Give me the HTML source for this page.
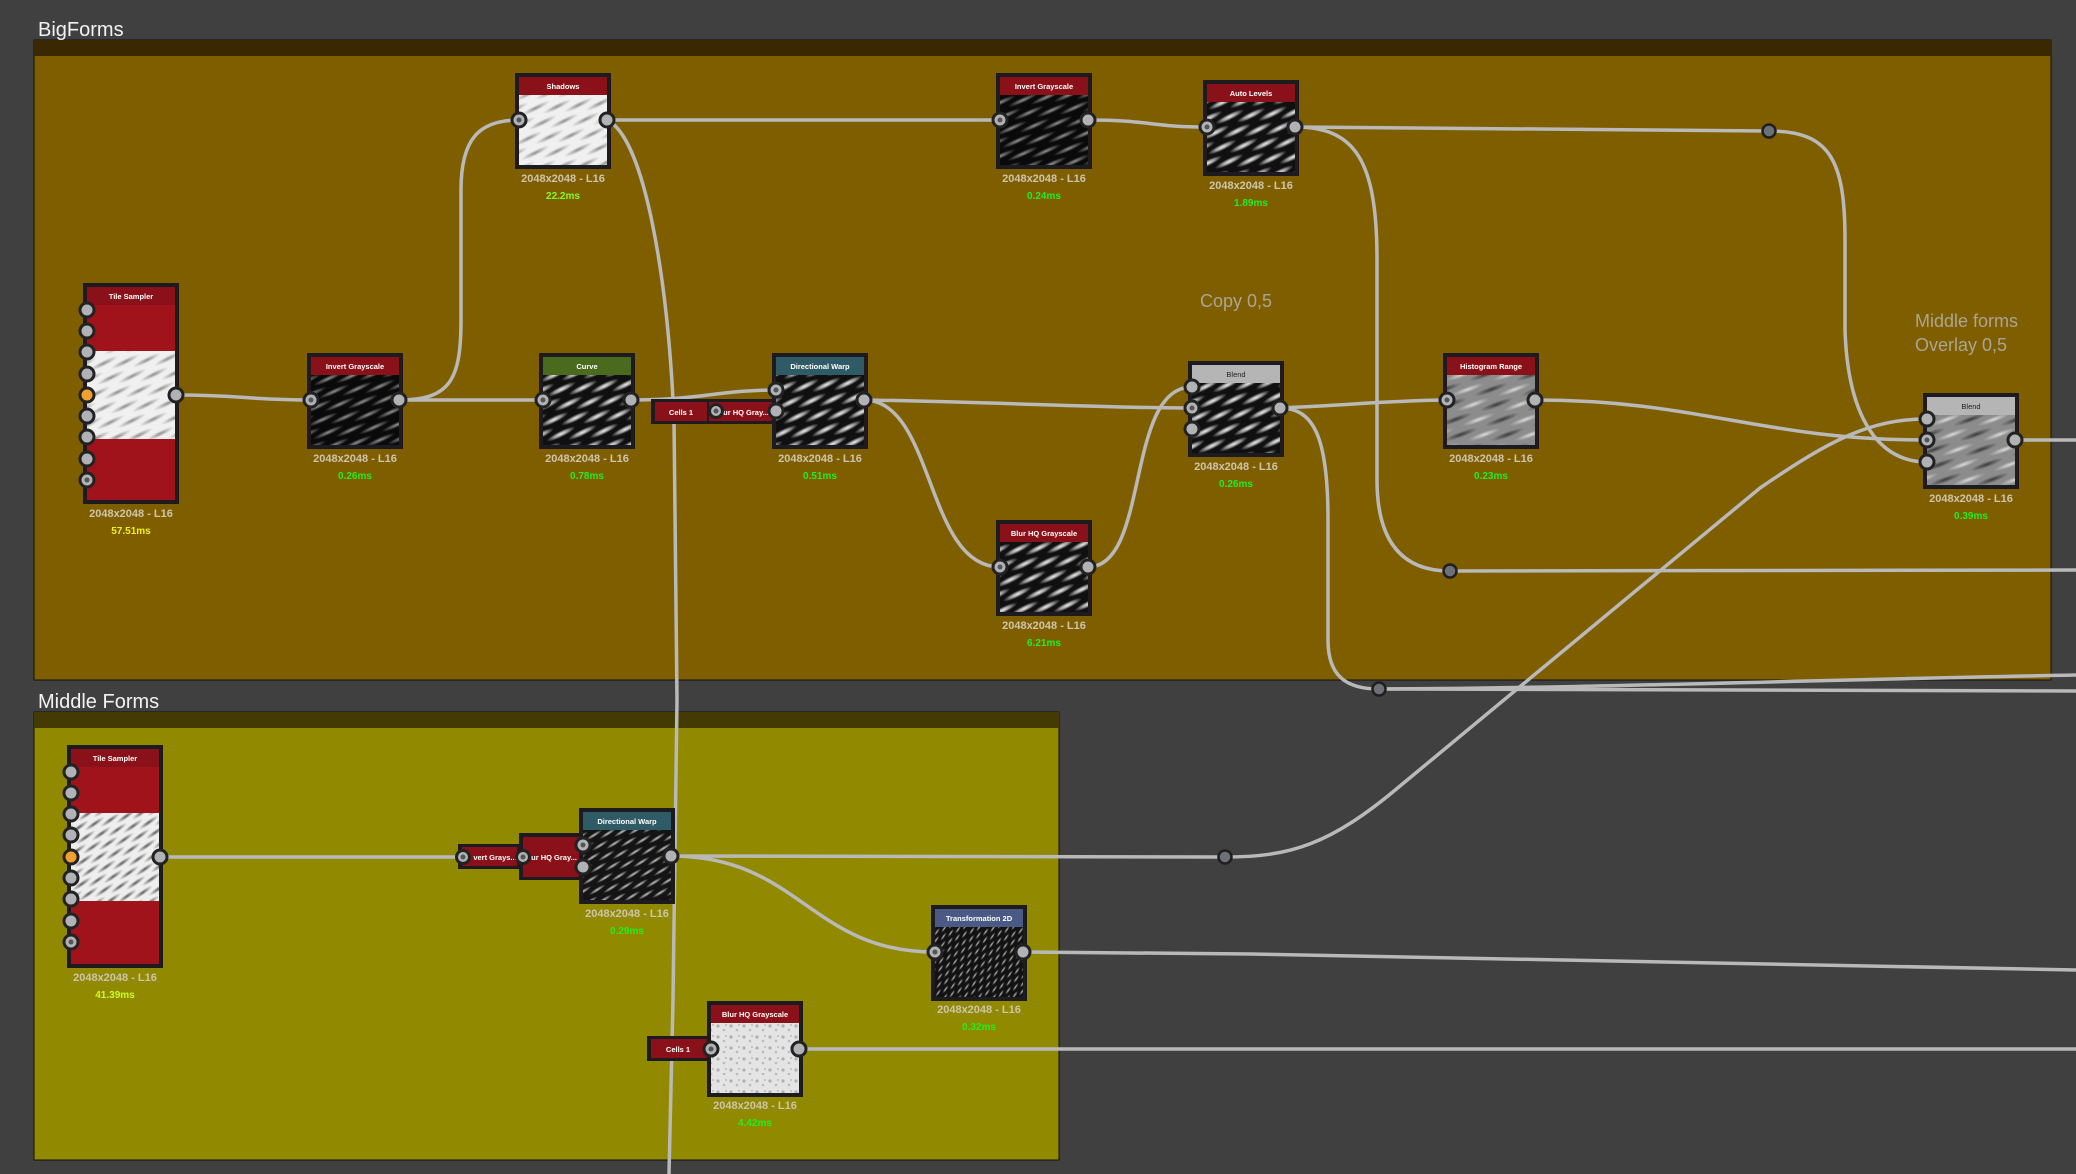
<!DOCTYPE html>
<html><head><meta charset="utf-8"><style>
html,body{margin:0;padding:0;background:#404040;}
svg{display:block}
text{font-family:"Liberation Sans",sans-serif}
.t{font-size:7.5px;font-weight:bold;fill:#fff;text-anchor:middle}
.l{font-size:11px;font-weight:bold;fill:#cdc5ad;text-anchor:middle}
.m{font-size:10px;font-weight:bold;fill:#22ee22;text-anchor:middle}
.c{fill:none;stroke:#b9b9b9;stroke-width:3.5}
.p{fill:#b0b2b6;stroke:#222;stroke-width:3}
.pi{fill:#555}
.d{fill:#6c7078;stroke:#1f1f1f;stroke-width:2.5}
.n{fill:#1d1b1f}
</style></head><body>
<svg width="2076" height="1174" viewBox="0 0 2076 1174" xmlns="http://www.w3.org/2000/svg">
<defs>
 <radialGradient id="rw"><stop offset="0" stop-color="#f4f4f4"/><stop offset="0.5" stop-color="#cfcfcf" stop-opacity=".7"/><stop offset="1" stop-color="#bbb" stop-opacity="0"/></radialGradient>
 <radialGradient id="rw2"><stop offset="0" stop-color="#bdbdbd"/><stop offset="0.6" stop-color="#999" stop-opacity=".5"/><stop offset="1" stop-color="#888" stop-opacity="0"/></radialGradient>
 <radialGradient id="rk"><stop offset="0" stop-color="#8a8a8a"/><stop offset="1" stop-color="#9a9a9a" stop-opacity="0"/></radialGradient>
 <radialGradient id="rk2"><stop offset="0" stop-color="#555"/><stop offset="1" stop-color="#666" stop-opacity="0"/></radialGradient>
 <radialGradient id="rg"><stop offset="0" stop-color="#3a3a3a"/><stop offset="1" stop-color="#3a3a3a" stop-opacity="0"/></radialGradient>
 <pattern id="pD" patternUnits="userSpaceOnUse" width="40" height="16" patternTransform="rotate(-26)">
  <rect width="40" height="16" fill="#101010"/>
  <ellipse cx="14" cy="4" rx="16" ry="3.2" fill="url(#rw)"/>
  <ellipse cx="54" cy="4" rx="16" ry="3.2" fill="url(#rw)"/>
  <ellipse cx="34" cy="12" rx="16" ry="3.2" fill="url(#rw)"/>
  <ellipse cx="-6" cy="12" rx="16" ry="3.2" fill="url(#rw)"/>
 </pattern>
 <pattern id="pDim" patternUnits="userSpaceOnUse" width="44" height="14" patternTransform="rotate(-24)">
  <rect width="44" height="14" fill="#0a0a0a"/>
  <ellipse cx="14" cy="3.5" rx="17" ry="2.6" fill="url(#rw2)" opacity=".8"/>
  <ellipse cx="58" cy="3.5" rx="17" ry="2.6" fill="url(#rw2)" opacity=".8"/>
  <ellipse cx="36" cy="10.5" rx="17" ry="2.6" fill="url(#rw2)" opacity=".8"/>
  <ellipse cx="-8" cy="10.5" rx="17" ry="2.6" fill="url(#rw2)" opacity=".8"/>
 </pattern>
 <pattern id="pW" patternUnits="userSpaceOnUse" width="40" height="16" patternTransform="rotate(-26)">
  <rect width="40" height="16" fill="#f0f0f0"/>
  <ellipse cx="14" cy="4" rx="16" ry="2.8" fill="url(#rk)"/>
  <ellipse cx="54" cy="4" rx="16" ry="2.8" fill="url(#rk)"/>
  <ellipse cx="34" cy="12" rx="16" ry="2.8" fill="url(#rk)"/>
  <ellipse cx="-6" cy="12" rx="16" ry="2.8" fill="url(#rk)"/>
 </pattern>
 <pattern id="pW2" patternUnits="userSpaceOnUse" width="30" height="12" patternTransform="rotate(-35)">
  <rect width="30" height="12" fill="#eeeeee"/>
  <ellipse cx="10" cy="3" rx="12" ry="2.4" fill="url(#rk2)"/>
  <ellipse cx="40" cy="3" rx="12" ry="2.4" fill="url(#rk2)"/>
  <ellipse cx="25" cy="9" rx="12" ry="2.4" fill="url(#rk2)"/>
  <ellipse cx="-5" cy="9" rx="12" ry="2.4" fill="url(#rk2)"/>
 </pattern>
 <pattern id="pG" patternUnits="userSpaceOnUse" width="44" height="16" patternTransform="rotate(-20)">
  <rect width="44" height="16" fill="#8c8c8c"/>
  <ellipse cx="14" cy="4" rx="18" ry="3" fill="url(#rw)" opacity=".8"/>
  <ellipse cx="58" cy="4" rx="18" ry="3" fill="url(#rw)" opacity=".8"/>
  <ellipse cx="36" cy="12" rx="18" ry="3" fill="url(#rg)"/>
  <ellipse cx="-8" cy="12" rx="18" ry="3" fill="url(#rg)"/>
 </pattern>
 <pattern id="pC" patternUnits="userSpaceOnUse" width="26" height="12" patternTransform="rotate(-32)">
  <rect width="26" height="12" fill="#141414"/>
  <ellipse cx="9" cy="3" rx="10" ry="1.8" fill="url(#rw)" opacity=".8"/>
  <ellipse cx="35" cy="3" rx="10" ry="1.8" fill="url(#rw)" opacity=".8"/>
  <ellipse cx="22" cy="9" rx="10" ry="1.8" fill="url(#rw)" opacity=".8"/>
  <ellipse cx="-4" cy="9" rx="10" ry="1.8" fill="url(#rw)" opacity=".8"/>
 </pattern>
 <pattern id="pT" patternUnits="userSpaceOnUse" width="14" height="8" patternTransform="rotate(-55)">
  <rect width="14" height="8" fill="#121212"/>
  <ellipse cx="5" cy="2" rx="5" ry="1.2" fill="url(#rw)" opacity=".8"/>
  <ellipse cx="12" cy="6" rx="5" ry="1.2" fill="url(#rw)" opacity=".8"/>
  <ellipse cx="-2" cy="6" rx="5" ry="1.2" fill="url(#rw)" opacity=".8"/>
 </pattern>
 <pattern id="pN" patternUnits="userSpaceOnUse" width="13" height="11">
  <rect width="13" height="11" fill="#e4e4e4"/>
  <circle cx="3" cy="3" r="1.6" fill="#9a9a9a" opacity=".7"/>
  <circle cx="9" cy="7" r="1.3" fill="#aaa" opacity=".7"/>
  <circle cx="11" cy="2" r="0.9" fill="#888" opacity=".6"/>
 </pattern>
</defs>

<rect width="2076" height="1174" fill="#404040"/>

<!-- Frames -->
<rect x="34" y="40" width="2017" height="640" fill="#7f5e00" stroke="#111" stroke-width="1"/>
<rect x="34" y="40" width="2017" height="16" fill="#3a2800"/>
<text x="38" y="36" font-size="20" fill="#f2f2f2">BigForms</text>

<rect x="34" y="712" width="1025" height="448" fill="#918900" stroke="#111" stroke-width="1"/>
<rect x="34" y="712" width="1025" height="16" fill="#433a04"/>
<text x="38" y="708" font-size="20" fill="#f2f2f2">Middle Forms</text>

<text x="1200" y="307" font-size="18" fill="#aba593">Copy 0,5</text>
<text x="1915" y="327" font-size="18" fill="#aba593">Middle forms</text>
<text x="1915" y="351" font-size="18" fill="#aba593">Overlay 0,5</text>

<!-- Connectors -->
<path class="c" d="M176,395 C240,395 250,400 311,400"/>
<path class="c" d="M399,400 L543,400"/>
<path class="c" d="M399,400 C450,400 461,380 461,320 L461,190 C461,140 478,120 519,120"/>
<path class="c" d="M607,120 L1000,120"/>
<path class="c" d="M607,120 C645,138 668,280 674,420 L677,700 L673,1000 L669,1174"/>
<path class="c" d="M631,400 C700,400 720,390 776,390"/>
<path class="c" d="M864,400 C1000,402 1100,408 1192,408"/>
<path class="c" d="M864,400 C935,400 925,567 1000,567"/>
<path class="c" d="M1088,567 C1150,567 1125,387 1192,387"/>
<path class="c" d="M1088,120 C1150,120 1150,127 1207,127"/>
<path class="c" d="M1295,127 L1769,131"/>
<path class="c" d="M1295,127 C1355,127 1377,160 1377,260 L1377,480 C1377,545 1405,571 1450,571"/>
<path class="c" d="M1450,571 L2076,570"/>
<path class="c" d="M1769,131 C1830,131 1845,160 1845,240 L1845,330 C1848,420 1880,462 1927,462"/>
<path class="c" d="M1280,408 C1350,405 1400,400 1447,400"/>
<path class="c" d="M1280,408 C1315,408 1328,440 1328,520 L1328,640 C1328,675 1345,689 1379,689"/>
<path class="c" d="M1379,689 L2076,691"/>
<path class="c" d="M1379,689 C1600,688 1800,680 2076,675"/>
<path class="c" d="M1535,400 C1700,400 1760,440 1927,440"/>
<path class="c" d="M2015,440 L2076,440"/>
<path class="c" d="M160,857 L463,857"/>
<path class="c" d="M671,856 L1225,857"/>
<path class="c" d="M1225,857 C1290,857 1330,845 1400,786 L1760,488 C1830,440 1870,419 1927,419"/>
<path class="c" d="M671,856 C800,856 810,952 935,952"/>
<path class="c" d="M1023,952 L1250,954 L2076,970"/>
<path class="c" d="M799,1049 L2076,1049"/>

<!-- BF Tile Sampler -->
<rect class="n" x="83" y="283" width="96" height="221"/>
<rect x="87" y="287" width="88" height="213" fill="#a0131b"/>
<rect x="87" y="287" width="88" height="18" fill="#8a1119"/>
<text class="t" x="131" y="299">Tile Sampler</text>
<rect x="87" y="351" width="88" height="88" fill="url(#pW)"/>
<g>
<circle class="p" cx="87" cy="310" r="7"/><circle class="p" cx="87" cy="331" r="7"/><circle class="p" cx="87" cy="352" r="7"/><circle class="p" cx="87" cy="374" r="7"/>
<circle cx="87" cy="395" r="7" fill="#f0a030" stroke="#222" stroke-width="3"/>
<circle class="p" cx="87" cy="416" r="7"/><circle class="p" cx="87" cy="437" r="7"/><circle class="p" cx="87" cy="459" r="7"/><circle class="p" cx="87" cy="480" r="7"/><circle class="pi" cx="87" cy="480" r="2.5"/>
<circle class="p" cx="176" cy="395" r="7"/>
</g>
<text class="l" x="131" y="517">2048x2048 - L16</text>
<text class="m" x="131" y="534" style="fill:#f0f020">57.51ms</text>

<!-- Invert Grayscale -->
<rect class="n" x="307" y="353" width="96" height="96"/>
<rect x="311" y="357" width="88" height="18" fill="#8a1119"/>
<rect x="311" y="375" width="88" height="70" fill="url(#pDim)"/>
<text class="t" x="355" y="369">Invert Grayscale</text>
<circle class="p" cx="311" cy="400" r="7"/><circle class="pi" cx="311" cy="400" r="2.5"/>
<circle class="p" cx="399" cy="400" r="7"/>
<text class="l" x="355" y="462">2048x2048 - L16</text>
<text class="m" x="355" y="479">0.26ms</text>

<!-- Shadows -->
<rect class="n" x="515" y="73" width="96" height="96"/>
<rect x="519" y="77" width="88" height="18" fill="#8a1119"/>
<rect x="519" y="95" width="88" height="70" fill="url(#pW)"/>
<text class="t" x="563" y="89">Shadows</text>
<circle class="p" cx="519" cy="120" r="7"/><circle class="pi" cx="519" cy="120" r="2.5"/>
<circle class="p" cx="607" cy="120" r="7"/>
<text class="l" x="563" y="182">2048x2048 - L16</text>
<text class="m" x="563" y="199" style="fill:#80ff20">22.2ms</text>

<!-- Curve -->
<rect class="n" x="539" y="353" width="96" height="96"/>
<rect x="543" y="357" width="88" height="18" fill="#4a6a1e"/>
<rect x="543" y="375" width="88" height="70" fill="url(#pD)"/>
<text class="t" x="587" y="369">Curve</text>
<circle class="p" cx="543" cy="400" r="7"/><circle class="pi" cx="543" cy="400" r="2.5"/>
<circle class="p" cx="631" cy="400" r="7"/>
<text class="l" x="587" y="462">2048x2048 - L16</text>
<text class="m" x="587" y="479">0.78ms</text>

<!-- small BF chain -->
<rect class="n" x="651" y="399" width="129" height="25"/>
<rect x="655" y="402" width="52" height="19" fill="#8a1119"/>
<text class="t" x="681" y="415">Cells 1</text>
<rect x="709" y="402" width="68" height="19" fill="#8a1119"/>
<text class="t" x="746" y="415">ur HQ Gray...</text>
<circle class="p" cx="716" cy="411" r="6.5"/><circle class="pi" cx="716" cy="411" r="2.5"/>

<!-- Directional Warp BF -->
<rect class="n" x="772" y="353" width="96" height="96"/>
<rect x="776" y="357" width="88" height="18" fill="#2f5b66"/>
<rect x="776" y="375" width="88" height="70" fill="url(#pD)"/>
<text class="t" x="820" y="369">Directional Warp</text>
<circle class="p" cx="776" cy="390" r="7"/><circle class="pi" cx="776" cy="390" r="2.5"/>
<circle class="p" cx="776" cy="411" r="7"/>
<circle class="p" cx="864" cy="400" r="7"/>
<text class="l" x="820" y="462">2048x2048 - L16</text>
<text class="m" x="820" y="479">0.51ms</text>

<!-- Invert Grayscale 2 -->
<rect class="n" x="996" y="73" width="96" height="96"/>
<rect x="1000" y="77" width="88" height="18" fill="#8a1119"/>
<rect x="1000" y="95" width="88" height="70" fill="url(#pDim)"/>
<text class="t" x="1044" y="89">Invert Grayscale</text>
<circle class="p" cx="1000" cy="120" r="7"/><circle class="pi" cx="1000" cy="120" r="2.5"/>
<circle class="p" cx="1088" cy="120" r="7"/>
<text class="l" x="1044" y="182">2048x2048 - L16</text>
<text class="m" x="1044" y="199">0.24ms</text>

<!-- Auto Levels -->
<rect class="n" x="1203" y="80" width="96" height="96"/>
<rect x="1207" y="84" width="88" height="18" fill="#8a1119"/>
<rect x="1207" y="102" width="88" height="70" fill="url(#pD)"/>
<text class="t" x="1251" y="96">Auto Levels</text>
<circle class="p" cx="1207" cy="127" r="7"/><circle class="pi" cx="1207" cy="127" r="2.5"/>
<circle class="p" cx="1295" cy="127" r="7"/>
<text class="l" x="1251" y="189">2048x2048 - L16</text>
<text class="m" x="1251" y="206">1.89ms</text>

<!-- Blur HQ BF -->
<rect class="n" x="996" y="520" width="96" height="96"/>
<rect x="1000" y="524" width="88" height="18" fill="#8a1119"/>
<rect x="1000" y="542" width="88" height="70" fill="url(#pD)"/>
<text class="t" x="1044" y="536">Blur HQ Grayscale</text>
<circle class="p" cx="1000" cy="567" r="7"/><circle class="pi" cx="1000" cy="567" r="2.5"/>
<circle class="p" cx="1088" cy="567" r="7"/>
<text class="l" x="1044" y="629">2048x2048 - L16</text>
<text class="m" x="1044" y="646">6.21ms</text>

<!-- Blend BF -->
<rect class="n" x="1188" y="361" width="96" height="96"/>
<rect x="1192" y="365" width="88" height="18" fill="#b5b5b5"/>
<rect x="1192" y="383" width="88" height="70" fill="url(#pD)"/>
<text x="1236" y="377" font-size="7.5" fill="#222" text-anchor="middle">Blend</text>
<circle class="p" cx="1192" cy="387" r="7"/>
<circle class="p" cx="1192" cy="408" r="7"/><circle class="pi" cx="1192" cy="408" r="2.5"/>
<circle class="p" cx="1192" cy="429" r="7"/>
<circle class="p" cx="1280" cy="408" r="7"/>
<text class="l" x="1236" y="470">2048x2048 - L16</text>
<text class="m" x="1236" y="487">0.26ms</text>

<!-- Histogram Range -->
<rect class="n" x="1443" y="353" width="96" height="96"/>
<rect x="1447" y="357" width="88" height="18" fill="#8a1119"/>
<rect x="1447" y="375" width="88" height="70" fill="url(#pG)"/>
<text class="t" x="1491" y="369">Histogram Range</text>
<circle class="p" cx="1447" cy="400" r="7"/><circle class="pi" cx="1447" cy="400" r="2.5"/>
<circle class="p" cx="1535" cy="400" r="7"/>
<text class="l" x="1491" y="462">2048x2048 - L16</text>
<text class="m" x="1491" y="479">0.23ms</text>

<!-- Blend 2 -->
<rect class="n" x="1923" y="393" width="96" height="96"/>
<rect x="1927" y="397" width="88" height="18" fill="#b5b5b5"/>
<rect x="1927" y="415" width="88" height="70" fill="url(#pG)"/>
<text x="1971" y="409" font-size="7.5" fill="#222" text-anchor="middle">Blend</text>
<circle class="p" cx="1927" cy="419" r="7"/>
<circle class="p" cx="1927" cy="440" r="7"/><circle class="pi" cx="1927" cy="440" r="2.5"/>
<circle class="p" cx="1927" cy="462" r="7"/>
<circle class="p" cx="2015" cy="440" r="7"/>
<text class="l" x="1971" y="502">2048x2048 - L16</text>
<text class="m" x="1971" y="519">0.39ms</text>

<!-- MF Tile Sampler -->
<rect class="n" x="67" y="745" width="96" height="223"/>
<rect x="71" y="749" width="88" height="215" fill="#a0131b"/>
<rect x="71" y="749" width="88" height="18" fill="#8a1119"/>
<text class="t" x="115" y="761">Tile Sampler</text>
<rect x="71" y="813" width="88" height="88" fill="url(#pW2)"/>
<circle class="p" cx="71" cy="772" r="7"/><circle class="p" cx="71" cy="793" r="7"/><circle class="p" cx="71" cy="814" r="7"/><circle class="p" cx="71" cy="835" r="7"/>
<circle cx="71" cy="857" r="7" fill="#f0a030" stroke="#222" stroke-width="3"/>
<circle class="p" cx="71" cy="878" r="7"/><circle class="p" cx="71" cy="899" r="7"/><circle class="p" cx="71" cy="921" r="7"/><circle class="p" cx="71" cy="942" r="7"/><circle class="pi" cx="71" cy="942" r="2.5"/>
<circle class="p" cx="160" cy="857" r="7"/>
<text class="l" x="115" y="981">2048x2048 - L16</text>
<text class="m" x="115" y="998" style="fill:#c8ff20">41.39ms</text>

<!-- MF small chain -->
<rect class="n" x="458" y="844" width="62" height="25"/>
<rect x="462" y="847" width="55" height="19" fill="#8a1119"/>
<text class="t" x="495" y="860">vert Grays...</text>
<circle class="p" cx="463" cy="857" r="6.5"/><circle class="pi" cx="463" cy="857" r="2.5"/>
<rect class="n" x="519" y="833" width="61" height="47"/>
<rect x="523" y="837" width="56" height="40" fill="#8a1119"/>
<text class="t" x="554" y="860">ur HQ Gray...</text>
<circle class="p" cx="523" cy="857" r="6.5"/><circle class="pi" cx="523" cy="857" r="2.5"/>

<!-- MF Directional Warp -->
<rect class="n" x="579" y="808" width="96" height="96"/>
<rect x="583" y="812" width="88" height="18" fill="#2f5b66"/>
<rect x="583" y="830" width="88" height="70" fill="url(#pC)"/>
<text class="t" x="627" y="824">Directional Warp</text>
<circle class="p" cx="583" cy="845" r="7"/><circle class="pi" cx="583" cy="845" r="2.5"/>
<circle class="p" cx="583" cy="867" r="7"/>
<circle class="p" cx="671" cy="856" r="7"/>
<text class="l" x="627" y="917">2048x2048 - L16</text>
<text class="m" x="627" y="934">0.29ms</text>

<!-- Transformation 2D -->
<rect class="n" x="931" y="905" width="96" height="96"/>
<rect x="935" y="909" width="88" height="18" fill="#4b5a84"/>
<rect x="935" y="927" width="88" height="70" fill="url(#pT)"/>
<text class="t" x="979" y="921">Transformation 2D</text>
<circle class="p" cx="935" cy="952" r="7"/><circle class="pi" cx="935" cy="952" r="2.5"/>
<circle class="p" cx="1023" cy="952" r="7"/>
<text class="l" x="979" y="1013">2048x2048 - L16</text>
<text class="m" x="979" y="1030">0.32ms</text>

<!-- MF Blur HQ -->
<rect class="n" x="647" y="1036" width="62" height="25"/>
<rect x="651" y="1039" width="56" height="19" fill="#8a1119"/>
<text class="t" x="678" y="1052">Cells 1</text>
<rect class="n" x="707" y="1001" width="96" height="96"/>
<rect x="711" y="1005" width="88" height="18" fill="#8a1119"/>
<rect x="711" y="1023" width="88" height="70" fill="url(#pN)"/>
<text class="t" x="755" y="1017">Blur HQ Grayscale</text>
<circle class="p" cx="711" cy="1049" r="7"/><circle class="pi" cx="711" cy="1049" r="2.5"/>
<circle class="p" cx="799" cy="1049" r="7"/>
<text class="l" x="755" y="1109">2048x2048 - L16</text>
<text class="m" x="755" y="1126">4.42ms</text>

<!-- reroute dots -->
<circle class="d" cx="1769" cy="131" r="6.5"/>
<circle class="d" cx="1450" cy="571" r="6.5"/>
<circle class="d" cx="1379" cy="689" r="6.5"/>
<circle class="d" cx="1225" cy="857" r="6.5"/>
</svg>
</body></html>
